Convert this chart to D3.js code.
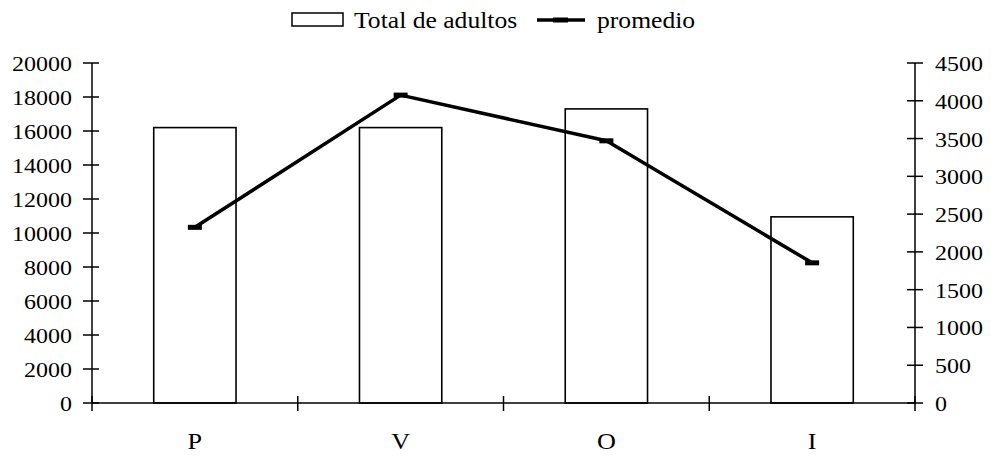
<!DOCTYPE html>
<html><head><meta charset="utf-8">
<script src="https://cdn.jsdelivr.net/npm/d3@7"></script>
<style>body{margin:0;background:#fff}svg{display:block}text{font-family:"Liberation Serif","Times New Roman",serif;fill:#000}</style>
</head><body>
<script>
const categories = ["P","V","O","I"];
const totalAdultos = [16200, 16200, 17300, 10950];
const promedio = [2325, 4075, 3470, 1855];
const leftTicks = [0,2000,4000,6000,8000,10000,12000,14000,16000,18000,20000];
const rightTicks = [0,500,1000,1500,2000,2500,3000,3500,4000,4500];
const legendLabels = ["Total de adultos","promedio"];

const W = 991, H = 457, SX = 1.09;
const svg = d3.select("body").append("svg").attr("width",W).attr("height",H);
const x0 = 92, x1 = 915, yTop = 63, yBot = 403;
const x = d3.scaleBand().domain(categories).range([x0,x1]);
const yL = d3.scaleLinear().domain([0,20000]).range([yBot,yTop]);
const yR = d3.scaleLinear().domain([0,4500]).range([yBot,yTop]);

function txt(g, xx, yy, s, size, anchor){
  return g.append("text").attr("transform",`translate(${xx},${yy}) scale(${SX},1)`)
    .attr("font-size",size).attr("text-anchor",anchor||"start").text(s);
}

// bars
const bw = x.bandwidth()*0.4;
svg.selectAll("rect.bar").data(categories).enter().append("rect")
  .attr("x",d=>x(d)+x.bandwidth()/2-bw/2)
  .attr("y",(d,i)=>yL(totalAdultos[i]))
  .attr("width",bw).attr("height",(d,i)=>yBot-yL(totalAdultos[i]))
  .attr("fill","#fff").attr("stroke","#000").attr("stroke-width",1.6);

// axes
const ax = svg.append("g").attr("stroke","#000").attr("stroke-width",1.5);
ax.append("line").attr("x1",x0).attr("x2",x0).attr("y1",yTop).attr("y2",yBot);
ax.append("line").attr("x1",x1).attr("x2",x1).attr("y1",yTop).attr("y2",yBot);
ax.append("line").attr("x1",x0).attr("x2",x1).attr("y1",yBot).attr("y2",yBot);
leftTicks.forEach(t=>{
  ax.append("line").attr("x1",x0-9).attr("x2",x0+7).attr("y1",yL(t)).attr("y2",yL(t));
  txt(svg, 72, yL(t)+8, String(t), 22, "end");
});
rightTicks.forEach(t=>{
  ax.append("line").attr("x1",x1-8).attr("x2",x1+8).attr("y1",yR(t)).attr("y2",yR(t));
  txt(svg, 935, yR(t)+8, String(t), 22, "start");
});
const xt = categories.map(c=>x(c)).concat([x1]);
xt.forEach(v=>{
  ax.append("line").attr("x1",v).attr("x2",v).attr("y1",yBot-7).attr("y2",yBot+8);
});
categories.forEach(c=>{
  txt(svg, x(c)+x.bandwidth()/2, 449, c, 24, "middle");
});

// line
const line = d3.line().x((d,i)=>x(categories[i])+x.bandwidth()/2).y(d=>yR(d));
svg.append("path").datum(promedio).attr("d",line).attr("fill","none")
  .attr("stroke","#000").attr("stroke-width",3.5).attr("stroke-linejoin","round");
svg.selectAll("rect.mk").data(promedio).enter().append("rect")
  .attr("x",(d,i)=>x(categories[i])+x.bandwidth()/2-7).attr("y",d=>yR(d)-2.5)
  .attr("width",14).attr("height",5).attr("fill","#000");

// legend
svg.append("rect").attr("x",292).attr("y",13).attr("width",51).attr("height",13)
  .attr("fill","#fff").attr("stroke","#000").attr("stroke-width",1.5);
txt(svg, 354, 28, legendLabels[0], 23.5, "start");
svg.append("line").attr("x1",537).attr("x2",585).attr("y1",20).attr("y2",20)
  .attr("stroke","#000").attr("stroke-width",3.5);
svg.append("rect").attr("x",553).attr("y",17.5).attr("width",15).attr("height",5).attr("fill","#000");
txt(svg, 597, 28, legendLabels[1], 23.5, "start");
</script>
</body></html>
